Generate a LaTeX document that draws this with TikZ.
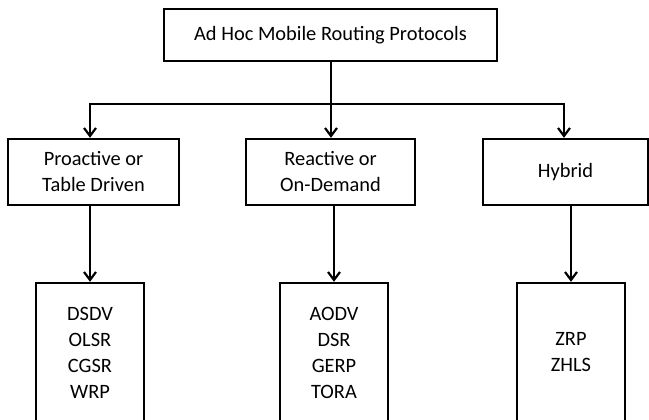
\documentclass[tikz,border=0pt]{standalone}
\usepackage{fontspec}
\setmainfont{Carlito}
\usetikzlibrary{arrows.meta}
\begin{document}
\begin{tikzpicture}[x=1pt,y=-1pt,
  box/.style={draw, line width=2.4pt, inner sep=0pt, align=center,
    font=\fontsize{20.4}{26}\selectfont},
  conn/.style={line width=2.2pt},
  arr/.style={conn, -{Straight Barb[length=8pt,width=12pt,line width=2.2pt]}}]
\useasboundingbox (0,0) rectangle (649,420);
\clip (0,0) rectangle (649,420);
\fill[white] (0,0) rectangle (649,420);
% top
\node[box, minimum width=333pt, minimum height=52pt] (root) at (330.5,35) {Ad Hoc Mobile Routing Protocols};
% second row
\node[box, minimum width=171pt, minimum height=66pt] (pro) at (93.5,172) {Proactive or\\Table Driven};
\node[box, minimum width=169pt, minimum height=66pt] (rea) at (330.5,172) {Reactive or\\On-Demand};
\node[box, minimum width=165pt, minimum height=66pt] (hyb) at (565.5,172) {Hybrid};
% bottom row
\node[box, minimum width=108pt, minimum height=139pt] (pl) at (90,352.5) {DSDV\\OLSR\\CGSR\\WRP};
\node[box, minimum width=108pt, minimum height=139pt] (rl) at (334,352.5) {AODV\\DSR\\GERP\\TORA};
\node[box, minimum width=108pt, minimum height=139pt] (hl) at (571,352.5) {ZRP\\ZHLS};
% connectors
\coordinate (j) at (331,104);
\draw[conn] (root.south -| j) -- (j);
\draw[arr] (j) -| ([xshift=-3.5pt]pro.north);
\draw[arr] (j) -- (j |- rea.north);
\draw[arr] (j) -| ([xshift=-1.5pt]hyb.north);
\draw[arr] (pl.north |- pro.south) -- (pl.north);
\draw[arr] (rl.north |- rea.south) -- (rl.north);
\draw[arr] (hl.north |- hyb.south) -- (hl.north);
\end{tikzpicture}
\end{document}
